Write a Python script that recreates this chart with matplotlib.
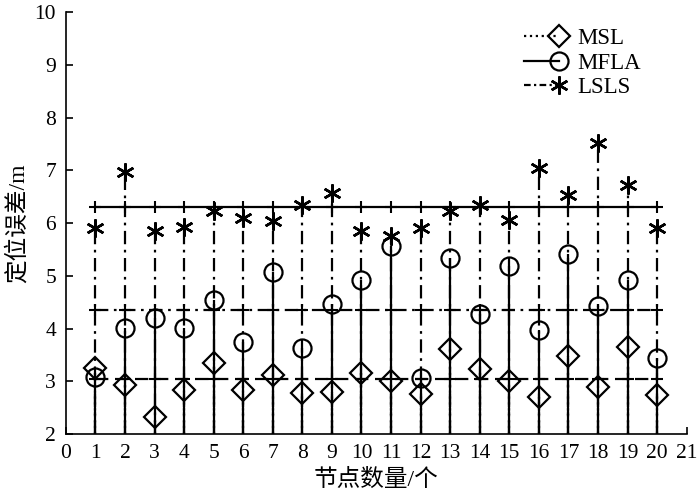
import matplotlib
matplotlib.use('Agg')
from matplotlib import pyplot as plt
from matplotlib.lines import Line2D
from matplotlib.legend_handler import HandlerLine2D

plt.rcParams['font.family'] = ['Liberation Serif', 'Noto Sans CJK SC']

nodes = list(range(1, 21))
msl = [3.25, 2.93, 2.33, 2.83, 3.34, 2.83, 3.12, 2.78, 2.80, 3.15,
       3.00, 2.76, 3.61, 3.23, 3.00, 2.71, 3.48, 2.90, 3.65, 2.74]
mfla = [3.09, 4.02, 4.21, 4.02, 4.54, 3.75, 5.08, 3.64, 4.46, 4.92,
        5.56, 3.07, 5.33, 4.27, 5.18, 3.98, 5.41, 4.43, 4.93, 3.45]
lsls = [5.90, 6.97, 5.85, 5.93, 6.23, 6.09, 6.04, 6.35, 6.57, 5.85,
        5.76, 5.90, 6.23, 6.34, 6.06, 7.04, 6.53, 7.51, 6.72, 5.91]
# 平均值水平线
msl_avg = 3.04
mfla_avg = 4.35
lsls_avg = 6.30
xticks = list(range(0, 22))
yticks = list(range(2, 11))


class EndMarker(HandlerLine2D):
    # 图例里标记画在线段右端
    def create_artists(self, legend, orig_handle, xdescent, ydescent, width, height, fontsize, trans):
        arts = super().create_artists(legend, orig_handle, xdescent, ydescent,
                                      width, height, fontsize, trans)
        arts[0].set_markevery([2])
        return arts


fig = plt.figure(figsize=(7, 4.99), dpi=100)
ax = fig.add_axes([0.094, 0.130, 0.887, 0.846])

lw = 1.6
star = (6, 2, 0)
dashdot = (0, (6, 2.5, 1.2, 2.5))
ax.vlines(nodes, 2, msl, colors='k', linestyles=':', linewidth=lw)
ax.vlines(nodes, 2, mfla, colors='k', linestyles='-', linewidth=lw)
ax.vlines(nodes, 2, lsls, colors='k', linestyles=dashdot, linewidth=lw)

ax.plot(nodes, msl, 'kD', markersize=11, markerfacecolor='none', markeredgewidth=1.6)
ax.plot(nodes, mfla, 'ko', markersize=13, markerfacecolor='none', markeredgewidth=1.6)
ax.plot(nodes, lsls, 'k', marker=star, linestyle='none', markersize=13, markeredgewidth=1.8)

ax.plot(nodes, [lsls_avg] * len(nodes), 'k-+', linewidth=lw, markersize=9, markeredgewidth=1.5)
ax.plot(nodes, [mfla_avg] * len(nodes), 'k+', linestyle=dashdot,
        linewidth=lw, markersize=9, markeredgewidth=1.5)
ax.plot(nodes, [msl_avg] * len(nodes), 'k+', linestyle=(0, (6, 3)),
        linewidth=lw, markersize=9, markeredgewidth=1.5)

h1 = Line2D([], [], color='k', linestyle=':', linewidth=lw, marker='D',
            markersize=11, markerfacecolor='none', markeredgewidth=1.6)
h2 = Line2D([], [], color='k', linestyle='-', linewidth=lw, marker='o',
            markersize=13, markerfacecolor='none', markeredgewidth=1.6)
h3 = Line2D([], [], color='k', linestyle=(0, (3, 1.5, 1, 1.5)), linewidth=lw, marker=star,
            markersize=13, markeredgewidth=1.8)
ax.legend([h1, h2, h3], ['MSL', 'MFLA', 'LSLS'], loc='upper right',
          bbox_to_anchor=(0.952, 1.0), frameon=False, fontsize=16.5,
          handlelength=1.55, handletextpad=0.79, labelspacing=0.15,
          borderaxespad=0.3, handler_map={Line2D: EndMarker()})

ax.set_xlim(0, 21)
ax.set_ylim(2, 10)
ax.set_xticks(xticks)
ax.set_yticks(yticks)
ax.tick_params(direction='in', length=5, width=1.2, labelsize=15.5, pad=7)
ax.spines['top'].set_visible(False)
ax.spines['right'].set_visible(False)
ax.spines['left'].set_linewidth(1.2)
ax.spines['bottom'].set_linewidth(1.2)

ax.set_xlabel('节点数量/个', fontsize=17, labelpad=4)
ax.set_ylabel('定位误差/m', fontsize=17, labelpad=4)

plt.savefig('out.png', dpi=100)
